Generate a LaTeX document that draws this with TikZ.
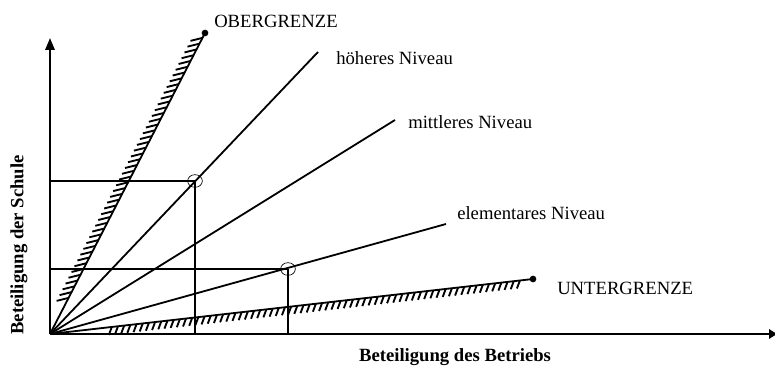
\documentclass[tikz,border=0pt]{standalone}
\usepackage{fontspec}
\setmainfont{Liberation Serif}
\usetikzlibrary{arrows.meta,calc,shapes.geometric}
\begin{document}
\begin{tikzpicture}[x=0.75pt,y=0.75pt,yscale=-1,xscale=1,
	axis/.style={line width=1.7pt},
	ray/.style={line width=1.35pt},
	hatch/.style={line width=1.4pt},
	guide/.style={line width=0.9pt},
	ring/.style={draw,ellipse,line width=0.5pt,minimum width=11pt,minimum height=9.5pt,inner sep=0pt},
	dot/.style={circle,fill,inner sep=0pt,minimum size=5pt},
	lbl/.style={anchor=west,inner sep=0.75pt,font=\fontsize{14}{16}\selectfont}]
	\useasboundingbox (0,0) rectangle (775,367);
	% origin, axes
	\coordinate (O) at (50,334);
	\coordinate (ytop) at (50,38);
	\coordinate (xend) at (777,334);
	\draw [axis,-{Triangle[length=9pt,width=7pt]}] (O) -- (ytop);
	\draw [axis,-{Triangle[length=6pt,width=7pt]}] (O) -- (xend);
	
	% limits
	\node [dot] (ob) at (205,33) {};
	\node [dot] (ub) at (533,279) {};
	\draw [ray] (O) -- (ob.center);
	\draw [ray] (O) -- (ub.center);
	\foreach \i in {0,...,45}
		\draw [hatch] ($(O)!{0.12+\i*0.0192}!(ob.center)$) -- ++(-12,3);
	\foreach \i in {0,...,66}
		\draw [hatch] ($(O)!{0.128+\i*0.0128}!(ub.center)$) -- ++(-3,8);
	
	% levels
	\coordinate (hn) at (318,52);
	\coordinate (mn) at (395,120);
	\coordinate (en) at (446,224);
	\draw [ray] (O) -- (hn);
	\draw [ray] (O) -- (mn);
	\draw [ray] (O) -- (en);
	
	% reading lines
	\node [ring] (pH) at (195,181) {};
	\node [ring] (pE) at (288,269) {};
	\coordinate (yH) at (50,181);
	\coordinate (yE) at (50,269);
	\coordinate (xH) at (195,334);
	\coordinate (xE) at (288,334);
	\draw [guide] (yH) -- (pH.center);
	\draw [guide] (yE) -- (pE.center);
	\draw [ray] (pH.center) -- (xH);
	\draw [ray] (pE.center) -- (xE);
	
	% Text Node
	\node [lbl] (tob) at (213,21) {OBERGRENZE};
	\node [lbl] (thn) at (335,58) {höheres Niveau};
	\node [lbl] (tmn) at (407,122) {mittleres Niveau};
	\node [lbl] (ten) at (456,213) {elementares Niveau};
	\node [lbl] (tub) at (556,288) {UNTERGRENZE};
	\node [lbl,anchor=center,font=\fontsize{14}{16}\selectfont\bfseries] (tx) at (455,357) {Beteiligung des Betriebs};
	\node [lbl,anchor=center,rotate=90,font=\fontsize{14}{16}\selectfont\bfseries] (ty) at (19,245) {Beteiligung der Schule};
\end{tikzpicture}
\end{document}
